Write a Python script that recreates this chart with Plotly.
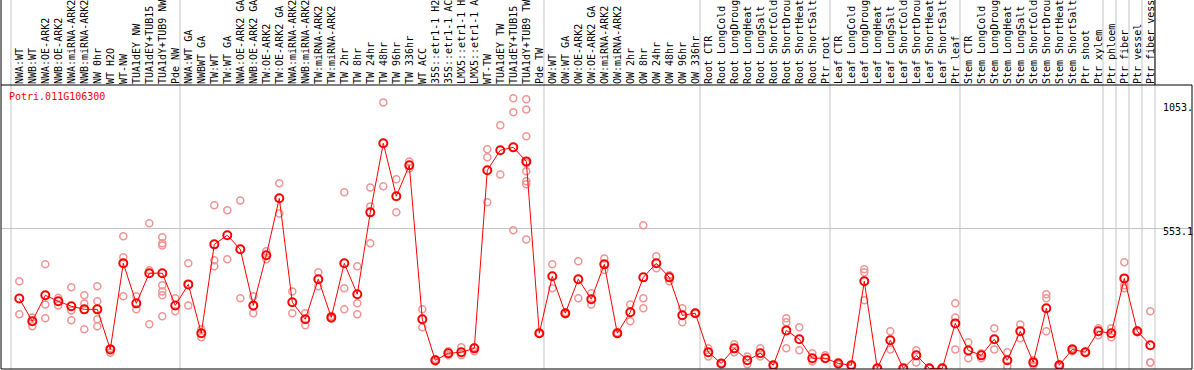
import plotly.graph_objects as go

# ---------------- data ----------------
labels = [
    # group 1
    "NWA:WT", "NWB:WT", "NWA:OE-ARK2", "NWB:OE-ARK2", "NWA:miRNA-ARK2", "NWB:miRNA-ARK2",
    "NW 0hr", "WT H2O", "WT-NW", "TUA1dEY NW", "TUA1dEY+TUB15 NW", "TUA1dY+TUB9 NW", "Pde NW",
    # group 2
    "NWA:WT GA", "NWBWT GA", "TW:WT", "TW:WT GA", "NWA:OE-ARK2 GA", "NWB:OE-ARK2 GA",
    "TW:OE-ARK2", "TW:OE-ARK2 GA", "NWA:miRNA-ARK2", "NWB:miRNA-ARK2", "TW:miRNA-ARK2",
    "TW:miRNA-ARK2", "TW 2hr", "TW 8hr", "TW 24hr", "TW 48hr", "TW 96hr", "TW 336hr", "WT ACC",
    "35S::etr1-1 H2O", "35S::etr1-1 ACC", "LMX5::etr1-1 H2O", "LMX5::etr1-1 ACC", "WT-TW",
    "TUA1dEY TW", "TUA1dEY+TUB15 TW", "TUA1dY+TUB9 TW", "Pde TW",
    # group 3
    "OW:WT", "OW:WT GA", "OW:OE-ARK2", "OW:OE-ARK2 GA", "OW:miRNA-ARK2", "OW:miRNA-ARK2",
    "OW 2hr", "OW 8hr", "OW 24hr", "OW 48hr", "OW 96hr", "OW 336hr",
    # group 4
    "Root CTR", "Root LongCold", "Root LongDrought", "Root LongHeat", "Root LongSalt",
    "Root ShortCold", "Root ShortDrought", "Root ShortHeat", "Root ShortSalt", "Ptr root",
    # group 5
    "Leaf CTR", "Leaf LongCold", "Leaf LongDrought", "Leaf LongHeat", "Leaf LongSalt",
    "Leaf ShortCold", "Leaf ShortDrought", "Leaf ShortHeat", "Leaf ShortSalt", "Ptr leaf",
    # group 6
    "Stem CTR", "Stem LongCold", "Stem LongDrought", "Stem LongHeat", "Stem LongSalt",
    "Stem ShortCold", "Stem ShortDrought", "Stem ShortHeat", "Stem ShortSalt", "Ptr shoot",
    "Ptr xylem",
    # singles
    "Ptr phloem", "Ptr fiber", "Ptr vessel", "Ptr fiber vessel",
]

group_starts = [0, 13, 41, 53, 63, 73, 84, 85, 86, 87, 88]

mean_values = [
    283, 195, 295, 272, 253, 241, 241, 87, 418, 264, 380, 380, 256,
    337, 149, 491, 526, 472, 256, 449, 668, 268, 203, 357, 210, 418, 299, 614, 880, 676,
    795, 203, 45, 72, 76, 91, 776, 853, 864, 810, 149,
    368, 226, 357, 280, 414, 149, 230, 364, 418, 364, 218, 226,
    76, 33, 91, 45, 72, 26, 160, 126, 53, 53,
    33, 26, 349, 14, 122, 14, 64, 14, 14, 187,
    83, 64, 126, 45, 157, 37, 245, 26, 87, 76, 157,
    149, 360, 157, 103,
]

replicates = [
    [349, 222], [210, 176], [414, 260, 207], [286, 256], [326, 237, 199], [295, 263, 164],
    [330, 272, 203, 176], [91, 74], [522, 441, 291], [291, 241], [572, 391, 184],
    [518, 495, 487, 334, 310, 295, 214], [284, 234],
    [418, 256], [164, 134], [641, 430, 407], [622, 434], [660, 284], [291, 226], [464, 434],
    [726, 610], [310, 226], [226, 180], [384, 330], [215, 205], [691, 322, 241],
    [407, 264, 222], [710, 637, 495], [1037, 714], [741, 614], [810, 783], [241, 172],
    [50, 40], [80, 64], [95, 64], [95, 80], [857, 826, 653], [949, 760], [1053, 999, 545],
    [1049, 1010, 907, 803, 772, 734, 722, 510], [150, 147],
    [414, 322], [230, 222], [426, 284], [303, 260], [437, 392], [152, 145], [260, 195],
    [564, 284, 245], [445, 399], [372, 349], [245, 191], [228, 224],
    [91, 60], [35, 31], [107, 76], [60, 30], [91, 60], [28, 23], [207, 191, 91], [172, 84],
    [72, 41], [64, 53],
    [38, 29], [28, 23], [395, 384, 276], [15, 13], [157, 87], [15, 13], [84, 37], [15, 13],
    [15, 13], [264, 210, 87],
    [114, 53], [72, 53], [168, 87], [76, 22], [183, 130], [45, 26], [299, 284, 157], [30, 22],
    [91, 80], [78, 73], [168, 141],
    [168, 134], [422, 334, 322], [160, 153], [234, 37, 37],
]

title_text = "Potri.011G106300"
ytick_vals = [1053.0, 553.1, 0]
ytick_text = ["1053.", "553.1", "0"]

# ---------------- figure ----------------
FONT = "DejaVu Sans Mono"
x_idx = list(range(len(labels)))

rep_x, rep_y = [], []
for i, reps in enumerate(replicates):
    for v in reps:
        rep_x.append(i)
        rep_y.append(v)

fig = go.Figure()
fig.add_trace(go.Scatter(
    x=rep_x, y=rep_y, mode="markers",
    marker=dict(symbol="circle-open", size=7, color="#f09494", line=dict(width=1.5, color="#f09494")),
    hoverinfo="skip", showlegend=False,
))
fig.add_trace(go.Scatter(
    x=x_idx, y=mean_values, mode="lines+markers",
    line=dict(color="#ff0000", width=1),
    marker=dict(symbol="circle-open", size=8, color="#ff0000", line=dict(width=2, color="#ff0000")),
    showlegend=False,
))

shapes = []
top_paper = 1.31
for s in group_starts:
    shapes.append(dict(type="line", xref="x", yref="paper", x0=s - 0.64, x1=s - 0.64,
                       y0=0, y1=top_paper, line=dict(color="#c4c4c4", width=1), layer="below"))
# frame
shapes.append(dict(type="rect", xref="paper", yref="paper", x0=0, x1=1, y0=0, y1=1,
                   line=dict(color="black", width=1)))
shapes.append(dict(type="line", xref="paper", yref="paper", x0=0, x1=0, y0=1, y1=top_paper,
                   line=dict(color="black", width=1)))
shapes.append(dict(type="line", xref="x", yref="paper", x0=88 - 0.64, x1=88 - 0.64, y0=1, y1=top_paper,
                   line=dict(color="black", width=1)))

annotations = [dict(
    text=title_text, xref="paper", yref="paper", x=0.007, y=0.9595,
    xanchor="left", yanchor="middle", showarrow=False, xshift=-2,
    font=dict(family=FONT, size=10, color="#ff0000"),
)]
yshifts = [-9.5, -3.5, 10]
for v, t, sh in zip(ytick_vals, ytick_text, yshifts):
    annotations.append(dict(
        text=t, xref="paper", yref="y", x=0.9757, y=v, xanchor="left", yanchor="middle",
        showarrow=False, xshift=-2, yshift=sh, font=dict(family=FONT, size=10, color="black"),
    ))

fig.update_layout(
    width=1194, height=370,
    margin=dict(l=1, r=2, t=85, b=1, pad=0),
    paper_bgcolor="white", plot_bgcolor="white",
    shapes=shapes, annotations=annotations,
    xaxis=dict(
        range=[-1.408, 90.208], side="top", tickmode="array", tickvals=x_idx, ticktext=labels,
        tickangle=-90, tickfont=dict(family=FONT, size=10, color="black"),
        showgrid=False, zeroline=False, showline=False, ticks="", automargin=False,
        fixedrange=True,
    ),
    yaxis=dict(
        range=[11.54, 1103.85], tickmode="array", tickvals=[553.1], showticklabels=False,
        showgrid=True, gridcolor="#c4c4c4", gridwidth=1, zeroline=False, showline=False,
        ticks="", automargin=False, fixedrange=True,
    ),
    showlegend=False,
)

fig.write_html(
    "out.html",
    config={"displayModeBar": False},
    post_script="document.body.style.margin='0';document.body.style.overflow='hidden';",
)
